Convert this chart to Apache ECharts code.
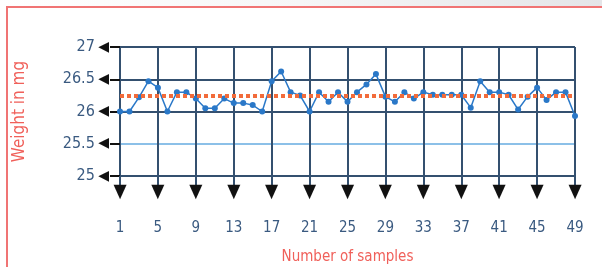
<!DOCTYPE html>
<html lang="en">
<head>
	<meta charset="UTF-8">
	<title>Weight of samples</title>
	<script src="https://cdn.jsdelivr.net/npm/echarts@6/dist/echarts.min.js"></script>
	<style>
		body { margin: 0; background: #fff; }
		#chart { width: 602px; height: 267px; }
	</style>
</head>
<body>
	<div id="chart"></div>
</body>
<script>
	// sample numbers along the bottom
	const samples = ['1', '2', '3', '4', '5', '6', '7', '8', '9', '10', '11', '12', '13', '14', '15', '16', '17',
		'18', '19', '20', '21', '22', '23', '24', '25', '26', '27', '28', '29', '30', '31', '32', '33', '34',
		'35', '36', '37', '38', '39', '40', '41', '42', '43', '44', '45', '46', '47', '48', '49']

	// weight of each sample (mg)
	const weights = [26.0, 26.0, 26.22, 26.47, 26.37, 26.0, 26.3, 26.3, 26.2, 26.05,
		26.05, 26.2, 26.13, 26.13, 26.1, 26.0, 26.47, 26.62, 26.3, 26.25,
		26.0, 26.3, 26.15, 26.3, 26.15, 26.3, 26.42, 26.58, 26.23, 26.15,
		26.3, 26.2, 26.3, 26.26, 26.26, 26.26, 26.26, 26.06, 26.47, 26.3,
		26.3, 26.26, 26.03, 26.23, 26.37, 26.18, 26.3, 26.3, 25.93]

	const meanWeight = 26.25

	const font = "'DejaVu Sans Condensed', 'Liberation Sans Narrow', sans-serif"
	const dark = '#34506f'
	const red = '#f0605a'

	let mcharts = echarts.init(document.getElementById('chart'))

	let option = {
		animation: false,
		backgroundColor: '#fff',
		textStyle: { fontFamily: font },
		graphic: [
			{
				type: 'rect', silent: true, z: -10,
				shape: { x: 0, y: 0, width: 602, height: 7 },
				style: {
					fill: new echarts.graphic.LinearGradient(0, 0, 1, 0, [
						{ offset: 0, color: '#ffffff' },
						{ offset: 0.5, color: '#f6f6f7' },
						{ offset: 1, color: '#e4e5e8' }
					])
				}
			},
			{
				type: 'rect', silent: true,
				shape: { x: 7, y: 7, width: 700, height: 400 },
				style: { fill: 'none', stroke: '#f07474', lineWidth: 2 }
			}
		],
		grid: { left: 120, right: 27, top: 47, bottom: 91, outerBoundsMode: 'none' },
		xAxis: {
			type: 'category',
			data: samples,
			boundaryGap: false,
			name: 'Number of samples',
			nameLocation: 'middle',
			nameGap: 74,
			nameTextStyle: { color: red, fontSize: 15, fontFamily: font },
			axisLine: { show: true, lineStyle: { color: dark, width: 2 } },
			axisTick: { show: true, interval: 3, length: 10, lineStyle: { color: dark, width: 2 } },
			axisLabel: {
				interval: 3,
				margin: 6,
				formatter: v => '{a|▼}\n{v|' + v + '}',
				rich: {
					a: { fontSize: 19, color: '#111', lineHeight: 20, fontFamily: 'DejaVu Sans Condensed' },
					v: { fontSize: 15, color: '#3a5a80', lineHeight: 52, fontFamily: font }
				}
			},
			splitLine: { show: true, interval: 3, lineStyle: { color: dark, width: 2 } }
		},
		yAxis: {
			type: 'value',
			min: 25,
			max: 27,
			interval: 0.5,
			name: 'Weight in mg',
			nameLocation: 'middle',
			nameGap: 92,
			nameRotate: 90,
			nameTextStyle: { color: red, fontSize: 17, fontFamily: font },
			axisLine: { show: false },
			axisTick: { show: true, length: 10, lineStyle: { color: '#111', width: 2 } },
			axisLabel: {
				margin: 11,
				formatter: v => '{v|' + v + '} {a|◀}',
				rich: {
					v: { fontSize: 16, color: '#3a5a80', fontFamily: font },
					a: { fontSize: 14, color: '#111', fontFamily: 'DejaVu Sans' }
				}
			},
			splitLine: {
				show: true,
				lineStyle: { color: [dark, '#8cc0e8', dark, dark, dark], width: 2 }
			}
		},
		series: [
			{
				name: 'Mean',
				type: 'line',
				data: [],
				z: 1,
				markLine: {
					silent: true,
					symbol: 'none',
					label: { show: false },
					lineStyle: { color: '#f26b3a', width: 4, type: [4, 3] },
					data: [{ yAxis: meanWeight }]
				}
			},
			{
				name: 'Weight',
				type: 'line',
				data: weights,
				z: 3,
				symbol: 'circle',
				symbolSize: 6,
				lineStyle: { color: '#2a78c8', width: 1.5 },
				itemStyle: { color: '#2a78c8' }
			}
		]
	}

	mcharts.setOption(option)
</script>
</html>
